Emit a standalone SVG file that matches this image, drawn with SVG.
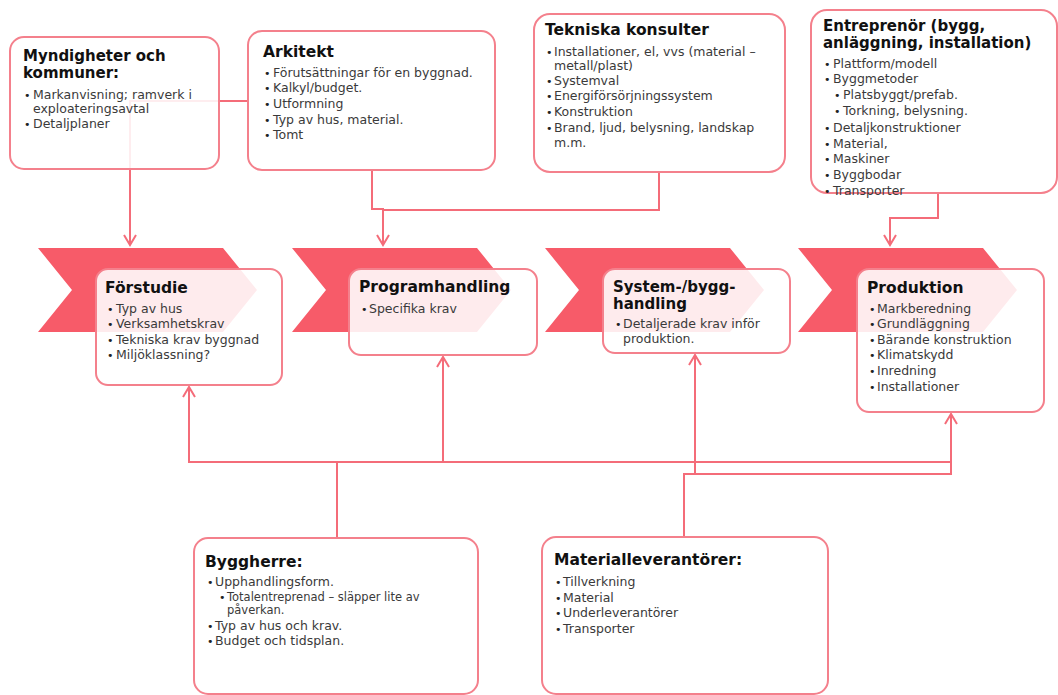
<svg xmlns="http://www.w3.org/2000/svg" width="1058" height="695" viewBox="0 0 1058 695">
<style>
.t{font-family:"DejaVu Sans",Verdana,sans-serif;font-weight:bold;font-size:15.5px;fill:#111}
.t2{font-family:"DejaVu Sans",Verdana,sans-serif;font-weight:bold;font-size:15px;fill:#111}
.i{font-family:"DejaVu Sans",Verdana,sans-serif;font-size:12.5px;fill:#3a3a3a}
.s{font-family:"DejaVu Sans",Verdana,sans-serif;font-size:11.5px;fill:#3a3a3a}
.b{font-family:"DejaVu Sans",Verdana,sans-serif;font-size:11px;fill:#222}
.box{fill:#fff;fill-opacity:0.88;stroke:#F4808C;stroke-width:2}
.chev{fill:#F75B69}
.c{fill:none;stroke:#F46C79;stroke-width:2}
</style>
<defs>
<marker id="ah" markerUnits="userSpaceOnUse" markerWidth="24" markerHeight="24" viewBox="-12 -12 24 24" refX="0" refY="0" orient="auto">
<path d="M-10,-6 L0,0 L-10,6" fill="none" stroke="#F46C79" stroke-width="2"/>
</marker>
</defs>
<g id="chevrons">
<polygon class="chev" points="38,248 223,248 257,290 223,332 38,332 72,290"/>
<polygon class="chev" points="292,248 477,248 511,290 477,332 292,332 326,290"/>
<polygon class="chev" points="545,248 730,248 764,290 730,332 545,332 579,290"/>
<polygon class="chev" points="798,248 983,248 1017,290 983,332 798,332 832,290"/>
</g>
<g id="connectors">
<path class="c" d="M248,101 H130 V245" marker-end="url(#ah)"/>
<path class="c" d="M372,171 V209 H383 V245" marker-end="url(#ah)"/>
<path class="c" d="M659,172 V210 H383"/>
<path class="c" d="M938,193 V218 H890 V245" marker-end="url(#ah)"/>
<path class="c" d="M337,538 V462 H189 V387" marker-end="url(#ah)"/>
<path class="c" d="M337,462 H443 V357" marker-end="url(#ah)"/>
<path class="c" d="M443,462 H951 V414" marker-end="url(#ah)"/>
<path class="c" d="M684,537 V474 H695 V355" marker-end="url(#ah)"/>
<path class="c" d="M695,474 H951 V462"/>
</g>
<g id="myndigheter">
<rect class="box" x="10" y="37" width="209" height="132" rx="14"/>
<text class="t2" x="23" y="61">Myndigheter och</text>
<text class="t2" x="23" y="78">kommuner:</text>
<text class="b" x="24" y="99">•</text><text class="i" x="33" y="99">Markanvisning; ramverk i</text>
<text class="i" x="33" y="113">exploateringsavtal</text>
<text class="b" x="24" y="128">•</text><text class="i" x="33" y="128">Detaljplaner</text>
</g>
<g id="arkitekt">
<rect class="box" x="248" y="31" width="247" height="139" rx="14"/>
<text class="t" x="263" y="57">Arkitekt</text>
<text class="b" x="264" y="77">•</text><text class="i" x="273" y="77">Förutsättningar för en byggnad.</text>
<text class="b" x="264" y="92">•</text><text class="i" x="273" y="92">Kalkyl/budget.</text>
<text class="b" x="264" y="108">•</text><text class="i" x="273" y="108">Utformning</text>
<text class="b" x="264" y="124">•</text><text class="i" x="273" y="124">Typ av hus, material.</text>
<text class="b" x="264" y="139">•</text><text class="i" x="273" y="139">Tomt</text>
</g>
<g id="tekniska">
<rect class="box" x="534" y="14" width="251" height="158" rx="16"/>
<text class="t" x="545" y="35">Tekniska konsulter</text>
<text class="b" x="546" y="56">•</text><text class="i" x="554" y="56">Installationer, el, vvs (material –</text>
<text class="i" x="554" y="70">metall/plast)</text>
<text class="b" x="546" y="85">•</text><text class="i" x="554" y="85">Systemval</text>
<text class="b" x="546" y="100">•</text><text class="i" x="554" y="100">Energiförsörjningssystem</text>
<text class="b" x="546" y="116">•</text><text class="i" x="554" y="116">Konstruktion</text>
<text class="b" x="546" y="132">•</text><text class="i" x="554" y="132">Brand, ljud, belysning, landskap</text>
<text class="i" x="554" y="147">m.m.</text>
</g>
<g id="entreprenor">
<rect class="box" x="811" y="10" width="246" height="183" rx="16"/>
<text class="t2" x="823" y="31">Entreprenör (bygg,</text>
<text class="t2" x="823" y="48">anläggning, installation)</text>
<text class="b" x="824" y="68">•</text><text class="i" x="833" y="68">Plattform/modell</text>
<text class="b" x="824" y="83">•</text><text class="i" x="833" y="83">Byggmetoder</text>
<text class="b" x="834" y="99">•</text><text class="i" x="843" y="99">Platsbyggt/prefab.</text>
<text class="b" x="834" y="115">•</text><text class="i" x="843" y="115">Torkning, belysning.</text>
<text class="b" x="824" y="132">•</text><text class="i" x="833" y="132">Detaljkonstruktioner</text>
<text class="b" x="824" y="148">•</text><text class="i" x="833" y="148">Material,</text>
<text class="b" x="824" y="163">•</text><text class="i" x="833" y="163">Maskiner</text>
<text class="b" x="824" y="179">•</text><text class="i" x="833" y="179">Byggbodar</text>
<text class="b" x="824" y="195">•</text><text class="i" x="833" y="195">Transporter</text>
</g>
<g id="forstudie">
<rect class="box" x="96" y="269" width="186" height="116" rx="12"/>
<text class="t" x="105" y="293">Förstudie</text>
<text class="b" x="107" y="313">•</text><text class="i" x="116" y="313">Typ av hus</text>
<text class="b" x="107" y="328">•</text><text class="i" x="116" y="328">Verksamhetskrav</text>
<text class="b" x="107" y="344">•</text><text class="i" x="116" y="344">Tekniska krav byggnad</text>
<text class="b" x="107" y="359">•</text><text class="i" x="116" y="359">Miljöklassning?</text>
</g>
<g id="programhandling">
<rect class="box" x="349" y="269" width="188" height="86" rx="12"/>
<text class="t" x="359" y="292">Programhandling</text>
<text class="b" x="361" y="313">•</text><text class="i" x="369" y="313">Specifika krav</text>
</g>
<g id="systemhandling">
<rect class="box" x="603" y="269" width="187" height="84" rx="12"/>
<text class="t2" x="613" y="292">System-/bygg-</text>
<text class="t2" x="613" y="309">handling</text>
<text class="b" x="615" y="328">•</text><text class="i" x="623" y="328">Detaljerade krav inför</text>
<text class="i" x="623" y="343">produktion.</text>
</g>
<g id="produktion">
<rect class="box" x="857" y="269" width="187" height="143" rx="12"/>
<text class="t" x="867" y="293">Produktion</text>
<text class="b" x="869" y="313">•</text><text class="i" x="877" y="313">Markberedning</text>
<text class="b" x="869" y="328">•</text><text class="i" x="877" y="328">Grundläggning</text>
<text class="b" x="869" y="344">•</text><text class="i" x="877" y="344">Bärande konstruktion</text>
<text class="b" x="869" y="359">•</text><text class="i" x="877" y="359">Klimatskydd</text>
<text class="b" x="869" y="375">•</text><text class="i" x="877" y="375">Inredning</text>
<text class="b" x="869" y="391">•</text><text class="i" x="877" y="391">Installationer</text>
</g>
<g id="byggherre">
<rect class="box" x="194" y="538" width="284" height="156" rx="14"/>
<text class="t" x="205" y="567">Byggherre:</text>
<text class="b" x="207" y="586">•</text><text class="i" x="215" y="586">Upphandlingsform.</text>
<text class="b" x="219" y="601">•</text><text class="s" x="227" y="601">Totalentreprenad – släpper lite av</text>
<text class="s" x="227" y="614">påverkan.</text>
<text class="b" x="207" y="630">•</text><text class="i" x="215" y="630">Typ av hus och krav.</text>
<text class="b" x="207" y="645">•</text><text class="i" x="215" y="645">Budget och tidsplan.</text>
</g>
<g id="materialleverantorer">
<rect class="box" x="542" y="537" width="286" height="157" rx="14"/>
<text class="t" x="554" y="565">Materialleverantörer:</text>
<text class="b" x="555" y="586">•</text><text class="i" x="563" y="586">Tillverkning</text>
<text class="b" x="555" y="602">•</text><text class="i" x="563" y="602">Material</text>
<text class="b" x="555" y="617">•</text><text class="i" x="563" y="617">Underleverantörer</text>
<text class="b" x="555" y="633">•</text><text class="i" x="563" y="633">Transporter</text>
</g>
</svg>
